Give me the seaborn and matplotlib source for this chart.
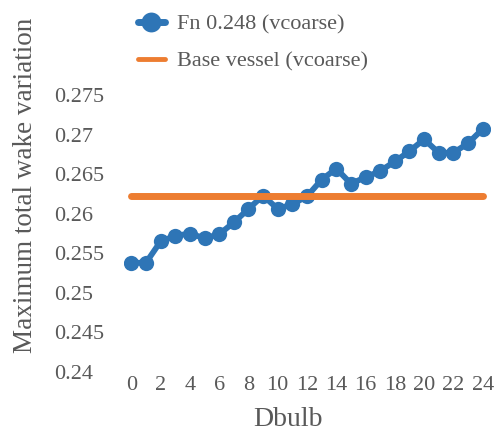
import numpy as np
import pandas as pd
import seaborn as sns
import matplotlib.pyplot as plt

# Dbulb values and the wake variation
dbulb = list(range(0, 25))
wake_fn0248 = [0.2538, 0.2538, 0.2565, 0.2572, 0.2575, 0.2569, 0.2574, 0.2589,
               0.2606, 0.2623, 0.2606, 0.2612, 0.2622, 0.2643, 0.2657, 0.2638,
               0.2646, 0.2654, 0.2666, 0.2679, 0.2694, 0.2677, 0.2677, 0.2689,
               0.2707]
base_x = [0, 24]
base_wake = [0.2622, 0.2622]

y_ticks = [0.24, 0.245, 0.25, 0.255, 0.26, 0.265, 0.27, 0.275]
y_ticklabels = ['0.24', '0.245', '0.25', '0.255', '0.26', '0.265', '0.27', '0.275']
x_ticks = list(range(0, 25, 2))

blue = '#2E75B6'
orange = '#ED7D31'
grey = '#595959'

sns.set_style('white')
plt.rcParams['font.family'] = ['Liberation Serif', 'DejaVu Serif']

df = pd.DataFrame({'Dbulb': dbulb, 'wake': wake_fn0248})
df_base = pd.DataFrame({'Dbulb': base_x, 'wake': base_wake})

fig = plt.figure(figsize=(5, 4.32), dpi=100)
ax = fig.add_axes([124 / 500, 60 / 432, 366 / 500, 277 / 432])

sns.lineplot(data=df, x='Dbulb', y='wake', ax=ax, color=blue, lw=4.2,
             marker='o', markersize=11, markeredgewidth=0,
             label='Fn 0.248 (vcoarse)')
sns.lineplot(data=df_base, x='Dbulb', y='wake', ax=ax, color=orange, lw=5,
             label='Base vessel (vcoarse)')

ax.set_xlim(-0.5, 24.5)
ax.set_ylim(0.24, 0.275)
ax.set_xticks(x_ticks)
ax.set_yticks(y_ticks)
ax.set_yticklabels(y_ticklabels)
ax.tick_params(axis='both', length=0, labelsize=16, colors=grey)
ax.tick_params(axis='y', pad=50)
ax.tick_params(axis='x', pad=3)
for lab in ax.get_yticklabels():
    lab.set_horizontalalignment('left')
sns.despine(ax=ax, left=True, bottom=True)

ax.set_xlabel('Dbulb', fontsize=20, color=grey)
ax.set_ylabel('Maximum total wake variation', fontsize=19.5, color=grey)
ax.xaxis.set_label_coords(0.448, -0.128)
ax.yaxis.set_label_coords(-0.235, 0.672)

leg = ax.legend(loc='upper left', bbox_to_anchor=(118 / 500, 1.014),
                bbox_transform=fig.transFigure, frameon=False, fontsize=16,
                handlelength=1.2, handletextpad=0.55, labelspacing=0.75,
                markerscale=1.3)
for t in leg.get_texts():
    t.set_color(grey)
leg.get_lines()[0].set_linewidth(5)
leg.get_lines()[1].set_linewidth(3.5)

fig.savefig('out.png', dpi=100)
